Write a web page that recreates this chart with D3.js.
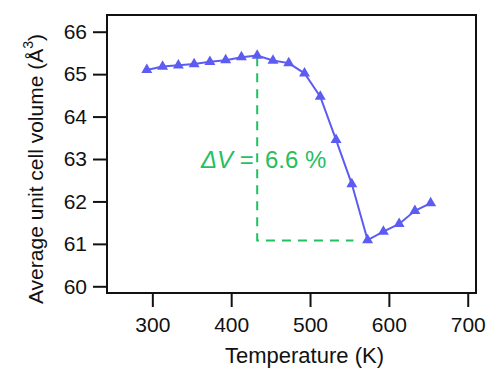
<!DOCTYPE html>
<html>
<head>
<meta charset="utf-8">
<script src="https://cdn.jsdelivr.net/npm/d3@7"></script>
<style>
  body { margin: 0; background: #fff; }
  svg { font-family: "Liberation Sans", Arial, sans-serif; }
</style>
</head>
<body>
<div id="chart"></div>
<script>
// temperature (K) and average unit cell volume (Å^3)
const temps = [293, 313, 333, 353, 373, 393, 413, 433, 453, 473, 493, 513, 533, 553, 573, 593, 613, 633, 653];
const volumes = [65.10, 65.18, 65.21, 65.24, 65.29, 65.33, 65.40, 65.44, 65.32, 65.26, 65.02, 64.47, 63.45, 62.41, 61.09, 61.29, 61.47, 61.78, 61.96];
const xTicks = [300, 400, 500, 600, 700];
const yTicks = [60, 61, 62, 63, 64, 65, 66];
// guide lines for the volume drop
const guideT = [433, 433, 555];
const guideV = [65.40, 61.08, 61.08];

const W = 500, H = 377;
const margin = { top: 15, right: 24, bottom: 84, left: 107 };

const svg = d3.select("#chart").append("svg")
    .attr("width", W)
    .attr("height", H);

const xScale = d3.scaleLinear()
    .domain([242.5, 710.5])
    .range([margin.left, W - margin.right]);

const yScale = d3.scaleLinear()
    .domain([59.842, 66.394])
    .range([H - margin.bottom, margin.top]);

const data = temps.map((t, i) => ({ t: t, v: volumes[i] }));

// --- axes ---
const xAxis = svg.append("g")
    .attr("transform", `translate(0,${H - margin.bottom})`)
    .call(d3.axisBottom(xScale).tickValues(xTicks).tickSize(14).tickPadding(10));

const yAxis = svg.append("g")
    .attr("transform", `translate(${margin.left},0)`)
    .call(d3.axisLeft(yScale).tickValues(yTicks).tickFormat(d3.format("d")).tickSize(14).tickPadding(6));

[xAxis, yAxis].forEach(a => {
    a.select(".domain").remove();
    a.selectAll(".tick line").attr("stroke", "#111").attr("stroke-width", 2);
    a.selectAll(".tick text").attr("fill", "#111").style("font-size", "21px");
});

// frame
svg.append("rect")
    .attr("x", margin.left)
    .attr("y", margin.top)
    .attr("width", W - margin.right - margin.left)
    .attr("height", H - margin.bottom - margin.top)
    .attr("fill", "none")
    .attr("stroke", "#111")
    .attr("stroke-width", 2);

// --- guide (dashed) ---
const guide = guideT.map((t, i) => [t, guideV[i]]);
svg.append("path")
    .attr("d", d3.line().x(d => xScale(d[0])).y(d => yScale(d[1]))(guide))
    .attr("fill", "none")
    .attr("stroke", "#1fc160")
    .attr("stroke-width", 2)
    .attr("stroke-dasharray", "9,7");

// --- data line + markers ---
const blue = "#5c5cf2";
svg.append("path")
    .datum(data)
    .attr("d", d3.line().x(d => xScale(d.t)).y(d => yScale(d.v)))
    .attr("fill", "none")
    .attr("stroke", blue)
    .attr("stroke-width", 2);

svg.selectAll(".pt")
    .data(data)
    .enter().append("path")
    .attr("class", "pt")
    .attr("transform", d => `translate(${xScale(d.t)},${yScale(d.v)})`)
    .attr("d", d3.symbol().type(d3.symbolTriangle).size(52))
    .attr("fill", blue);

// annotation
const note = svg.append("text")
    .attr("y", 168)
    .attr("fill", "#1fc160")
    .style("font-size", "24px");
note.append("tspan").attr("x", 201).style("font-style", "italic").text("ΔV");
note.append("tspan").text(" =");
note.append("tspan").attr("x", 265).text("6.6 %");

// --- axis titles ---
svg.append("text")
    .attr("x", 304.5)
    .attr("y", 363)
    .attr("text-anchor", "middle")
    .attr("fill", "#111")
    .style("font-size", "22px")
    .text("Temperature (K)");

const yt = svg.append("text")
    .attr("transform", `translate(43,${(margin.top + H - margin.bottom) / 2 + 15}) rotate(-90)`)
    .attr("text-anchor", "middle")
    .attr("fill", "#111")
    .style("font-size", "21px");
yt.append("tspan").text("Average unit cell volume (Å");
yt.append("tspan").attr("dy", -10).style("font-size", "14px").text("3");
yt.append("tspan").attr("dy", 10).text(")");
</script>
</body>
</html>
